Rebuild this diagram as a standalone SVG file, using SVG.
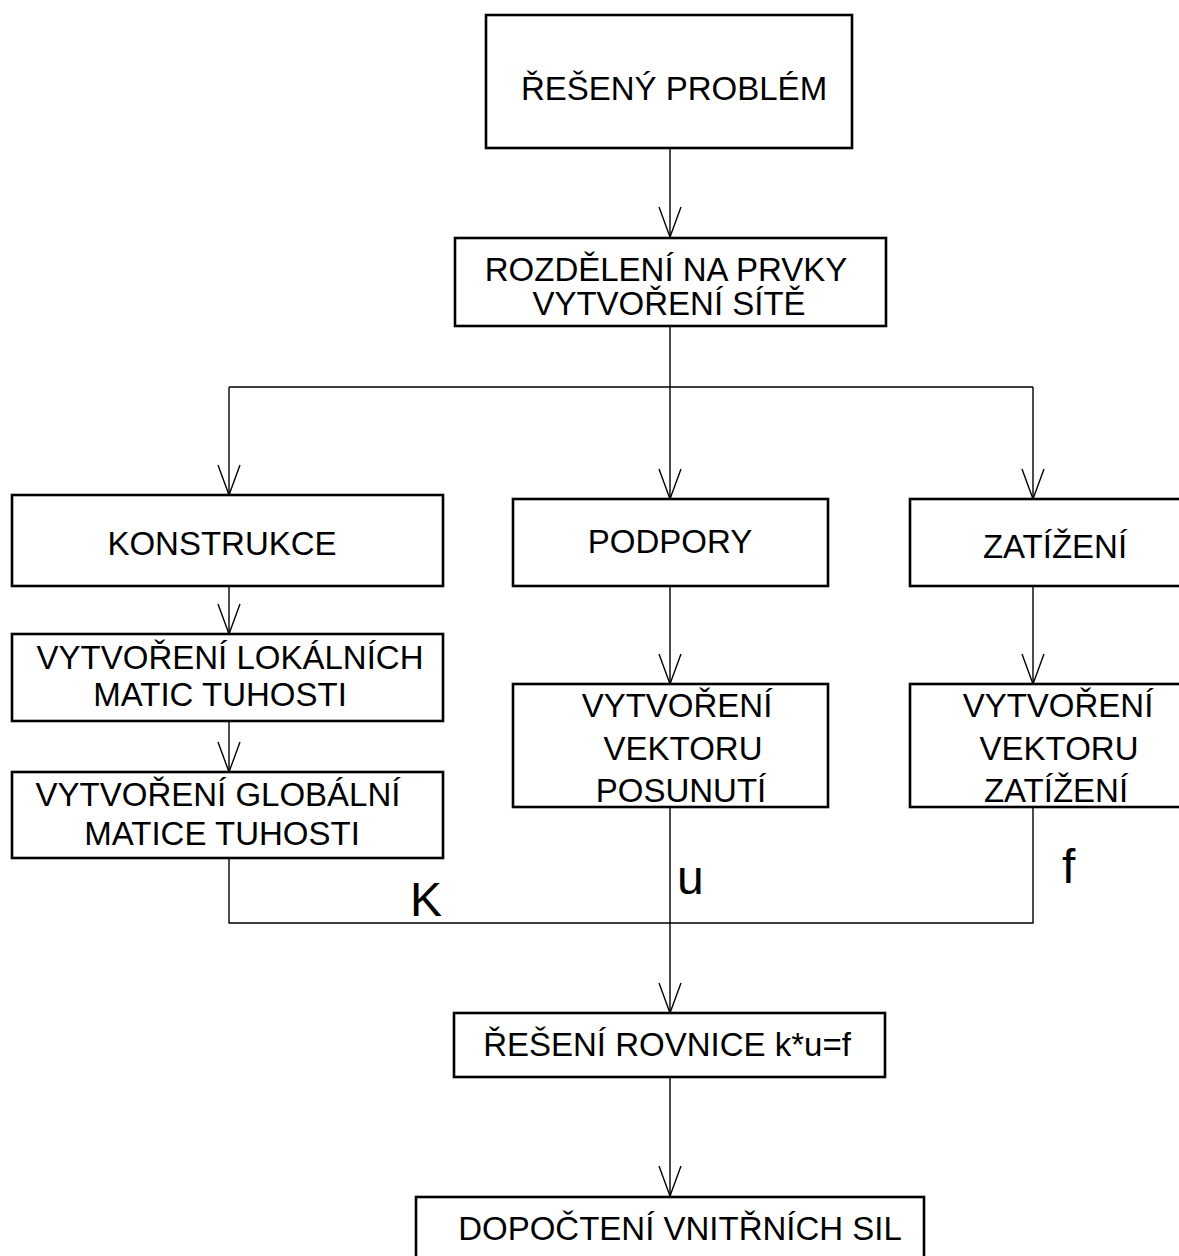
<svg xmlns="http://www.w3.org/2000/svg" width="1179" height="1256" viewBox="0 0 1179 1256">
<style>
.box{fill:#fff;stroke:#000;stroke-width:2.6}
.t{font-family:"Liberation Sans",Arial,sans-serif;font-size:33px;fill:#000;text-anchor:middle}
.lbl{font-family:"Liberation Sans",Arial,sans-serif;font-size:48px;fill:#000}
.c{fill:none;stroke:#000;stroke-width:1.4}
</style>
<defs>
<marker id="arr" markerWidth="34" markerHeight="26" refX="31" refY="12" orient="auto" markerUnits="userSpaceOnUse" viewBox="0 0 34 26">
<path d="M1,1 L31,12 L1,23" fill="none" stroke="#000" stroke-width="1.4"/>
</marker>
</defs>
<rect width="1179" height="1256" fill="#fff"/>
<g id="connectors">
<path class="c" d="M670,148 V237" marker-end="url(#arr)"/>
<path class="c" d="M670,326 V499" marker-end="url(#arr)"/>
<path class="c" d="M229,387 H1033"/>
<path class="c" d="M229,387 V495" marker-end="url(#arr)"/>
<path class="c" d="M1033,387 V499" marker-end="url(#arr)"/>
<path class="c" d="M229,586 V634" marker-end="url(#arr)"/>
<path class="c" d="M229,721 V772" marker-end="url(#arr)"/>
<path class="c" d="M670,586 V684" marker-end="url(#arr)"/>
<path class="c" d="M1033,586 V684" marker-end="url(#arr)"/>
<path class="c" d="M229,858 V923 H1033 V807"/>
<path class="c" d="M670,807 V1013" marker-end="url(#arr)"/>
<path class="c" d="M670,1077 V1196" marker-end="url(#arr)"/>
<text class="lbl" x="410" y="916">K</text>
<text class="lbl" x="677" y="894">u</text>
<text class="lbl" x="1062" y="883">f</text>
</g>
<g id="n1"><rect class="box" x="486" y="15" width="366" height="133"/><text class="t" x="674" y="100">ŘEŠENÝ PROBLÉM</text></g>
<g id="n2"><rect class="box" x="455" y="238" width="431" height="88"/><text class="t" x="666" y="281">ROZDĚLENÍ NA PRVKY</text><text class="t" x="669" y="315">VYTVOŘENÍ SÍTĚ</text></g>
<g id="n3"><rect class="box" x="12" y="495" width="431" height="91"/><text class="t" x="222" y="555">KONSTRUKCE</text></g>
<g id="n4"><rect class="box" x="513" y="499" width="315" height="87"/><text class="t" x="670" y="553">PODPORY</text></g>
<g id="n5"><rect class="box" x="910" y="499" width="280" height="87"/><text class="t" x="1055" y="558">ZATÍŽENÍ</text></g>
<g id="n6"><rect class="box" x="12" y="634" width="431" height="87"/><text class="t" x="230" y="669">VYTVOŘENÍ LOKÁLNÍCH</text><text class="t" x="220" y="706">MATIC TUHOSTI</text></g>
<g id="n7"><rect class="box" x="12" y="772" width="431" height="86"/><text class="t" x="218" y="806">VYTVOŘENÍ GLOBÁLNÍ</text><text class="t" x="222" y="845">MATICE TUHOSTI</text></g>
<g id="n8"><rect class="box" x="513" y="684" width="315" height="123"/><text class="t" x="677" y="717">VYTVOŘENÍ</text><text class="t" x="683" y="760">VEKTORU</text><text class="t" x="681" y="802">POSUNUTÍ</text></g>
<g id="n9"><rect class="box" x="910" y="684" width="280" height="123"/><text class="t" x="1058" y="717">VYTVOŘENÍ</text><text class="t" x="1059" y="760">VEKTORU</text><text class="t" x="1056" y="802">ZATÍŽENÍ</text></g>
<g id="n10"><rect class="box" x="454" y="1013" width="431" height="64"/><text class="t" x="667" y="1056">ŘEŠENÍ ROVNICE k*u=f</text></g>
<g id="n11"><rect class="box" x="416" y="1197" width="508" height="80"/><text class="t" x="680" y="1240">DOPOČTENÍ VNITŘNÍCH SIL</text></g>
</svg>
